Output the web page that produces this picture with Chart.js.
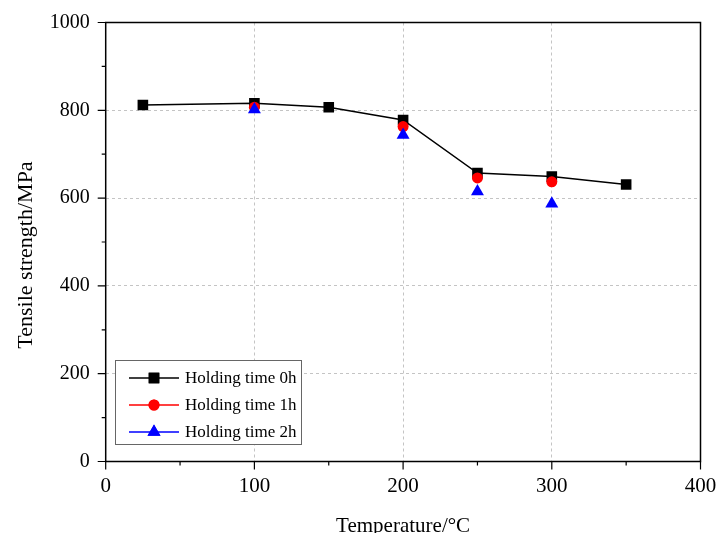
<!DOCTYPE html>
<html>
<head>
<meta charset="utf-8">
<script src="https://cdn.jsdelivr.net/npm/chart.js@4.4.0/dist/chart.umd.min.js"></script>
<style>
html,body{margin:0;padding:0;background:#fff;}
#wrap{width:718px;height:533px;}
</style>
</head>
<body>
<div id="wrap"><canvas id="c" width="718" height="533"></canvas></div>
<script>
const temps0h = [25, 100, 150, 200, 250, 300, 350];
const strength0h = [812, 816, 807, 778, 657, 649, 631];
const temps1h = [100, 200, 250, 300];
const strength1h = [807, 763, 646, 637];
const temps2h = [100, 200, 250, 300];
const strength2h = [802, 744, 615, 587];
const seriesNames = ['Holding time 0h', 'Holding time 1h', 'Holding time 2h'];
const xTicks = [0, 100, 200, 300, 400];
const yTicks = [0, 200, 400, 600, 800, 1000];
const xTitle = 'Temperature/°C';
const yTitle = 'Tensile strength/MPa';

const FONT = '"Liberation Serif", "Times New Roman", serif';
const toPts = (xs, ys) => xs.map((x, i) => ({x: x, y: ys[i]}));

const styles = [
  {color: '#000000', pointStyle: 'rect', radius: 7.5},
  {color: '#ff0000', pointStyle: 'circle', radius: 5.5},
  {color: '#0000ff', pointStyle: 'triangle', radius: 7.5}
];

const framePlugin = {
  id: 'frame',
  afterDraw(chart) {
    const ctx = chart.ctx;
    const a = chart.chartArea;
    const xs = chart.scales.x, ys = chart.scales.y;
    ctx.save();
    ctx.strokeStyle = '#000';
    ctx.lineWidth = 1.5;
    ctx.strokeRect(a.left, a.top, a.right - a.left, a.bottom - a.top);
    ctx.lineWidth = 1.2;
    ctx.beginPath();
    for (let v = 0; v <= 400; v += 50) {
      const px = xs.getPixelForValue(v);
      const len = (v % 100 === 0) ? 8 : 4;
      ctx.moveTo(px, a.bottom);
      ctx.lineTo(px, a.bottom + len);
    }
    for (let v = 0; v <= 1000; v += 100) {
      const py = ys.getPixelForValue(v);
      const len = (v % 200 === 0) ? 8 : 4;
      ctx.moveTo(a.left, py);
      ctx.lineTo(a.left - len, py);
    }
    ctx.stroke();

    // axis titles
    ctx.fillStyle = '#000';
    ctx.textAlign = 'center';
    ctx.textBaseline = 'middle';
    ctx.font = '21px ' + FONT;
    ctx.fillText(xTitle, (a.left + a.right) / 2, 526);
    ctx.save();
    ctx.translate(26, 255);
    ctx.rotate(-Math.PI / 2);
    ctx.font = '22px ' + FONT;
    ctx.fillText(yTitle, 0, 0);
    ctx.restore();

    // legend
    const bx = 115, by = 360, bw = 186, bh = 84;
    ctx.fillStyle = '#fff';
    ctx.fillRect(bx, by, bw, bh);
    ctx.strokeStyle = '#666';
    ctx.lineWidth = 1;
    ctx.strokeRect(bx + 0.5, by + 0.5, bw, bh);
    const rows = [378, 405, 432];
    ctx.font = '17px ' + FONT;
    ctx.textAlign = 'left';
    ctx.textBaseline = 'middle';
    rows.forEach((ry, i) => {
      const s = styles[i];
      ctx.strokeStyle = s.color;
      ctx.lineWidth = 1.5;
      ctx.beginPath();
      ctx.moveTo(129, ry);
      ctx.lineTo(179, ry);
      ctx.stroke();
      ctx.fillStyle = s.color;
      Chart.helpers.drawPoint(ctx, {pointStyle: s.pointStyle, radius: s.radius, rotation: 0, borderWidth: 0}, 154, ry);
      ctx.fill();
      ctx.fillStyle = '#000';
      ctx.fillText(seriesNames[i], 185, ry + 1);
    });
    ctx.restore();
  }
};

const gridOpts = {
  color: '#c4c4c4',
  lineWidth: 1,
  drawTicks: true,
  tickLength: 8,
  tickColor: 'rgba(0,0,0,0)'
};

new Chart(document.getElementById('c'), {
  type: 'scatter',
  data: {
    datasets: [
      {
        label: seriesNames[0],
        data: toPts(temps0h, strength0h),
        showLine: true,
        borderColor: '#000',
        borderWidth: 1.5,
        backgroundColor: '#000',
        pointBackgroundColor: '#000',
        pointBorderWidth: 0,
        pointStyle: styles[0].pointStyle,
        pointRadius: styles[0].radius,
        order: 3
      },
      {
        label: seriesNames[1],
        data: toPts(temps1h, strength1h),
        showLine: false,
        borderColor: '#ff0000',
        backgroundColor: '#ff0000',
        pointBorderWidth: 0,
        pointStyle: styles[1].pointStyle,
        pointRadius: styles[1].radius,
        order: 2
      },
      {
        label: seriesNames[2],
        data: toPts(temps2h, strength2h),
        showLine: false,
        borderColor: '#0000ff',
        backgroundColor: '#0000ff',
        pointBorderWidth: 0,
        pointStyle: styles[2].pointStyle,
        pointRadius: styles[2].radius,
        order: 1
      }
    ]
  },
  options: {
    responsive: false,
    animation: false,
    events: [],
    layout: {padding: {top: 22.5, right: 17.5, left: 0, bottom: 0}},
    plugins: {legend: {display: false}, tooltip: {enabled: false}},
    scales: {
      x: {
        type: 'linear',
        min: 0, max: 400,
        afterBuildTicks: s => { s.ticks = xTicks.map(v => ({value: v})); },
        afterFit: s => { s.height = 71.5; s.paddingLeft = 0; s.paddingRight = 0; },
        border: {display: false, dash: [3, 3]},
        grid: gridOpts,
        ticks: {color: '#000', font: {family: FONT, size: 21}, padding: 4, maxRotation: 0,
                callback: v => String(v)},
        title: {display: false}
      },
      y: {
        type: 'linear',
        min: 0, max: 1000,
        afterBuildTicks: s => { s.ticks = yTicks.map(v => ({value: v})); },
        afterFit: s => { s.width = 105.7; s.paddingTop = 0; s.paddingBottom = 0; },
        border: {display: false, dash: [3, 3]},
        grid: gridOpts,
        ticks: {color: '#000', font: {family: FONT, size: 20}, padding: 8,
                callback: v => String(v)},
        title: {display: false}
      }
    }
  },
  plugins: [framePlugin]
});
</script>
</body>
</html>
